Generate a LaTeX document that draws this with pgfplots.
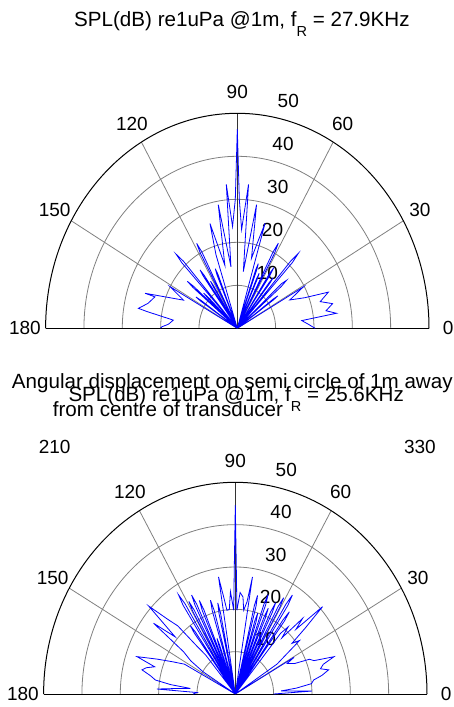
\documentclass[border=0pt]{standalone}
\usepackage{pgfplots}
\pgfplotsset{compat=1.18}
\usepackage{fontspec}
\setmainfont{Liberation Sans}
\definecolor{gridc}{gray}{0.5}
\definecolor{mblue}{rgb}{0,0,1}
\newcommand\tk{\fontsize{19}{19}\selectfont}
\newcommand\tl{\fontsize{20.6}{20.6}\selectfont}
\newcommand\subR{\raisebox{-10pt}{\fontsize{14.5}{14.5}\selectfont R}}

% polar frame: #1 centre x(pt), #2 centre y(pt, negative), #3 x unit, #4 y unit
\newcommand\polarframe[4]{%
\begin{scope}[shift={(#1pt,#2pt)}, x=#3pt, y=#4pt]
  \foreach \r in {10,20,30,40}{
    \draw[gridc, line width=0.8pt] (\r,0) arc[start angle=0, end angle=180, x radius=\r*#3pt, y radius=\r*#4pt];
  }
  \draw[gridc, line width=0.8pt] (0,0) -- (43.30,25);
  \draw[gridc, line width=0.8pt] (0,0) -- (25,43.30);
  \draw[gridc, line width=0.8pt] (0,0) -- (-25,43.30);
  \draw[gridc, line width=0.8pt] (0,0) -- (-43.30,25);
  \draw[black!80, line width=0.9pt] (0,0) -- (0,50);
  \draw[black, line width=1pt] (50,0) arc[start angle=0, end angle=180, x radius=50*#3pt, y radius=50*#4pt];
  \draw[black, line width=1pt] (-50,0) -- (50,0);
  \foreach \r in {10,20,30,40,50}{
    \node[font=\tk, inner sep=0] at ({6.45+0.137*\r},{2.9+\r}) {\r};
  }
  \node[font=\tk, inner sep=0] at (55,0) {0};
  \node[font=\tk, inner sep=0] at (47.63,27.5) {30};
  \node[font=\tk, inner sep=0] at (27.5,47.63) {60};
  \node[font=\tk, inner sep=0] at (0,55) {90};
  \node[font=\tk, inner sep=0] at (-27.5,47.63) {120};
  \node[font=\tk, inner sep=0] at (-47.63,27.5) {150};
  \node[font=\tk, inner sep=0] at (-55.4,0) {180};
\end{scope}}

\pgfplotstableread{
ang r
0 20.3
3 18.5
6.1 16.9
7.7 26.1
10 23.5
13 25.5
16 22.5
19.5 25.2
22 19
25.7 15.2
29.2 19.7
31 0
35 11.5
35.5 13
36 11.5
37 0
40.3 15
41 17
42 15.5
43.5 0
46.8 21
47.6 23.6
48.3 21
49 0
51 13.5
51.5 15
52 13.5
53 0
55.4 15
56 17
56.6 15
57.5 0
60.9 20
61.6 22.5
62.3 20
63 0
65.5 12.5
66 14
66.5 12.5
67.5 0
69.5 14.5
70 16
70.6 14.5
71.5 0
73.5 25.5
75.5 20
77.2 16.7
80.1 29.2
83.2 13.3
85 33.6
87.2 23
89 30
90 46.3
91 30
93 23.7
94.9 33.6
96.6 14.4
99.8 29.2
102.5 15
106.3 25.4
108 18
109.5 0
111.9 13.5
112.5 15
113.1 13.5
114 0
117.5 20
118.2 22.4
118.9 20
119.7 0
122 11.5
122.5 13
123 11.5
124 0
125 15
125.6 16.7
126.2 15
127 0
132 21
132.8 23.5
133.5 21
134.5 0
136.5 10.5
137 12
137.5 10.5
138.5 0
139.4 15
140 17
140.6 15
141.5 0
145.5 11.5
146 13
146.5 11.5
147.5 0
151.1 20
155 15.5
161.3 25.4
161.2 22.7
166 24
169.8 26.2
170.6 23.9
173.5 16.8
177 18
179 19.7
180 20
}\toptab

\pgfplotstableread{
ang r
0 10
2 20
3.5 12
5 16
7 20
9.2 20.7
11 23
13.2 25
15 23
17 24
18.9 27.2
21 22
23 21
25 17
28 15.3
29.5 17.6
31 0
33 13
35 16
37 21
39 19
40.5 24
42.2 30.7
44 22
45.5 25
47.5 18
49 21
50.5 18.6
52 0
53.4 21.5
54 24
54.6 21.5
55.5 0
56.8 25
57.5 27.7
58.1 25
59 0
60.4 23.5
61 26
61.6 23.5
62.5 0
63.4 21.5
64 24
64.6 21.5
65.5 0
66.4 19.5
67 22
67.6 19.5
68.5 0
69.4 22.5
70 25
70.6 22.5
71.5 0
72.4 18
73 20
73.6 18
74.5 0
75.4 21.5
76 24
76.6 21.5
77.5 0
80.8 28
82 22
83.7 19.9
85 23
87 24
88.8 19.8
89.5 30
90 44.6
90.5 30
91.2 19.8
93 24.2
94.5 20
96.3 19.9
97.5 23
99 28
100.5 0
101.4 19.5
102 22
102.6 19.5
103.5 0
105.6 20.5
106.3 23.1
107 20.5
108 0
109.5 12.5
110 14
110.5 12.5
111.5 0
112.4 21.5
113 24
113.6 21.5
114.5 0
115.4 23.5
116 26
116.6 23.5
117.5 0
118.4 22.5
119 25
119.6 22.5
120.5 0
121.6 25
122.3 27.7
123 25
124 0
125.4 18
126 20
126.6 18
127.5 0
130 12
131.5 15
133 22
135 25
137.4 30.7
139.3 20.7
141.9 27.1
143.5 16.8
146 14
148 10
150 0
152 15
155 18
158 22
161 27.1
163 22
165 24
166.8 25
169 22.5
171 21.1
172.5 17
173.6 11.8
175 15
176.7 20.5
178 10
180 11
}\bottab

\begin{document}
\begin{tikzpicture}
\useasboundingbox (0,0) rectangle (453pt,-707pt);

% ---------- top polar plot ----------
\polarframe{237.3}{-328.3}{3.834}{4.3}
\begin{scope}[shift={(237.3pt,-328.3pt)}, x=3.834pt, y=4.3pt]
  \node[font=\tk, inner sep=0] at (-47.63,-27.5) {210};
  \node[font=\tk, inner sep=0] at (47.63,-27.5) {330};
\end{scope}
\begin{axis}[anchor=south west, at={(45.6pt,-328.3pt)},
  x=3.834pt, y=4.3pt, xmin=-50, xmax=50, ymin=0, ymax=50,
  hide axis, clip=false]
\addplot[mblue, line width=0.8pt, mark=none, data cs=polar] table[x=ang, y=r] {\toptab};
\end{axis}
\node[anchor=base west, inner sep=0] at (74pt,-26pt) {\tl SPL(dB) re1uPa @1m, f\subR{} = 27.9KHz};

% ---------- x label of top plot ----------
\node[anchor=base west, inner sep=0] at (11.7pt,-388pt) {\tl Angular displacement on semi circle of 1m away};
\node[anchor=base west, inner sep=0] at (52.7pt,-416pt) {\tl from centre of transducer};

% ---------- bottom polar plot ----------
\polarframe{235.3}{-694}{3.834}{4.234}
\begin{axis}[anchor=south west, at={(43.6pt,-694pt)},
  x=3.834pt, y=4.234pt, xmin=-50, xmax=50, ymin=0, ymax=50,
  hide axis, clip=false]
\addplot[mblue, line width=0.8pt, mark=none, data cs=polar] table[x=ang, y=r] {\bottab};
\end{axis}
\node[anchor=base west, inner sep=0] at (68.3pt,-401pt) {\tl SPL(dB) re1uPa @1m, f\subR{} = 25.6KHz};
\end{tikzpicture}
\end{document}
